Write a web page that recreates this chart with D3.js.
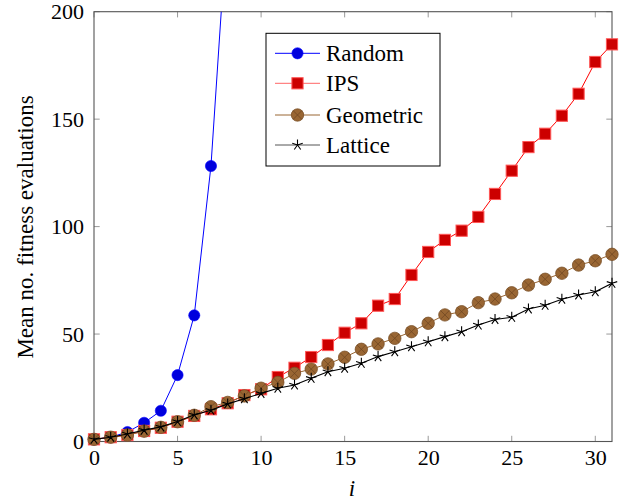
<!DOCTYPE html>
<html><head><meta charset="utf-8">
<script src="https://cdn.jsdelivr.net/npm/d3@7"></script>
<style>body{margin:0;background:#fff}svg{display:block}svg text{font-family:"Liberation Serif","Times New Roman","DejaVu Serif",serif}</style>
</head><body><div id="chart"></div>
<script>
const iRandom = [0,1,2,3,4,5,6,7,8];
const randomVals = [1,2,4.4,8.7,14.3,30.9,58.7,128.2,245];
const iAll = d3.range(0,32);
const ipsVals = [1,2,3,4.9,6.4,9.2,11.9,15,17.8,21.6,24.3,30,34.3,39.3,44.9,50.6,55,63.2,66.3,77.5,88.2,93.8,98.1,104.5,115.2,126,137,143.2,151.6,161.8,176.6,184.8];
const geoVals = [1,2,3,4.8,6.6,9.2,12.2,16.2,18.2,21.2,24.8,27.5,31.7,33.7,36.1,39.2,42.9,45.4,48,51.1,55,58.9,60.4,64.6,66.3,69.2,72.8,75.5,78.3,82.1,84.1,87.1];
const latVals = [1,2,3.5,5.3,6.8,9.3,12.4,14.5,17.5,19.9,22.4,24.8,26.3,29.4,32.5,34.1,36.4,39.5,41.8,44.1,46.4,48.8,51.1,54.2,56.8,57.8,61.7,63.4,66.2,68.2,69.7,73.6];
const xTicks = [0,5,10,15,20,25,30];
const yTicks = [0,50,100,150,200];
const seriesNames = ["Random","IPS","Geometric","Lattice"];

const W=633,H=503;
const L=94,R=612,T=11.7,B=441.5;
const svg=d3.select("#chart").append("svg").attr("width",W).attr("height",H);
const x=d3.scaleLinear().domain([0,31]).range([L,R]);
const y=d3.scaleLinear().domain([0,200]).range([B,T]);

svg.append("defs").append("clipPath").attr("id","clip").append("rect")
  .attr("x",L).attr("y",T).attr("width",R-L).attr("height",B-T);

const tickCol="#999", tl=5.7;
const tg=svg.append("g");
xTicks.forEach(t=>{
  tg.append("line").attr("x1",x(t)).attr("x2",x(t)).attr("y1",B).attr("y2",B-tl).attr("stroke",tickCol);
  tg.append("line").attr("x1",x(t)).attr("x2",x(t)).attr("y1",T).attr("y2",T+tl).attr("stroke",tickCol);
});
yTicks.forEach(t=>{
  tg.append("line").attr("y1",y(t)).attr("y2",y(t)).attr("x1",L).attr("x2",L+tl).attr("stroke",tickCol);
  tg.append("line").attr("y1",y(t)).attr("y2",y(t)).attr("x1",R).attr("x2",R-tl).attr("stroke",tickCol);
});

const xAxis=svg.append("g").attr("transform",`translate(0,${B})`)
  .call(d3.axisBottom(x).tickValues(xTicks).tickSize(0).tickPadding(8).tickFormat(d3.format("d")));
const yAxis=svg.append("g").attr("transform",`translate(${L},0)`)
  .call(d3.axisLeft(y).tickValues(yTicks).tickSize(0).tickPadding(10).tickFormat(d3.format("d")));
[xAxis,yAxis].forEach(a=>{a.attr("font-family",null);a.select(".domain").remove();a.selectAll("text").attr("font-size",22).attr("fill","#000");});

svg.append("rect").attr("x",L).attr("y",T).attr("width",R-L).attr("height",B-T)
  .attr("fill","none").attr("stroke","#555").attr("stroke-width",1.1);

const line=d3.line().x(d=>x(d[0])).y(d=>y(d[1]));
const plot=svg.append("g");

function starPath(r){let p="";for(let k=0;k<5;k++){const a=-Math.PI/2+k*2*Math.PI/5;p+=`M0,0L${(r*Math.cos(a)).toFixed(2)},${(r*Math.sin(a)).toFixed(2)}`;}return p;}
function drawMarker(g,type,cx,cy){
  const m=g.append("g").attr("transform",`translate(${cx},${cy})`);
  if(type==="circle"){m.append("circle").attr("r",5.6).attr("fill","#0000dd").attr("stroke","#0000ff").attr("stroke-width",0.6);}
  else if(type==="square"){m.append("rect").attr("x",-5.6).attr("y",-5.6).attr("width",11.2).attr("height",11.2).attr("fill","#cc0000").attr("stroke","#ff5555").attr("stroke-width",1);}
  else if(type==="otimes"){
    m.append("circle").attr("r",6.2).attr("fill","#996633").attr("stroke","#7a5028").attr("stroke-width",0.8);
    const c=6.2*Math.SQRT1_2;
    m.append("path").attr("d",`M${-c},${-c}L${c},${c}M${-c},${c}L${c},${-c}`).attr("stroke","#6b4420").attr("stroke-width",0.7);
  } else if(type==="star"){
    m.append("path").attr("d",starPath(5.5)).attr("stroke","#000").attr("stroke-width",1.1).attr("fill","none");
  }
}
const series=[
  {name:seriesNames[0],xs:iRandom,ys:randomVals,color:"#0000ff",w:1,mark:"circle"},
  {name:seriesNames[1],xs:iAll,ys:ipsVals,color:"#ff0000",w:1,mark:"square"},
  {name:seriesNames[2],xs:iAll,ys:geoVals,color:"#996633",w:1,mark:"otimes"},
  {name:seriesNames[3],xs:iAll,ys:latVals,color:"#000000",w:1.1,mark:"star"}
];
series.forEach(s=>{
  const pts=s.xs.map((xi,k)=>[xi,s.ys[k]]);
  plot.append("path").datum(pts).attr("d",line).attr("fill","none").attr("stroke",s.color)
    .attr("stroke-width",s.w).attr("clip-path","url(#clip)");
  const mg=plot.append("g");
  pts.filter(p=>p[1]<=200).forEach(p=>drawMarker(mg,s.mark,x(p[0]),y(p[1])));
});

const lg=svg.append("g");
lg.append("rect").attr("x",266).attr("y",33.3).attr("width",174).attr("height",132.7)
  .attr("fill","#fff").attr("stroke","#000").attr("stroke-width",1);
const legY=[53.3,83.3,115,145];
series.forEach((s,k)=>{
  const yy=legY[k];
  lg.append("line").attr("x1",275).attr("x2",320).attr("y1",yy).attr("y2",yy).attr("stroke",k===3?"#555":(k===1?"#ff6666":s.color)).attr("stroke-width",1);
  drawMarker(lg,s.mark,297.5,yy);
  lg.append("text").attr("x",326).attr("y",yy).attr("dy","0.33em").attr("font-size",23).text(s.name);
});

svg.append("text").attr("x",352).attr("y",488).attr("dy","0.35em").attr("text-anchor","middle")
  .attr("font-size",23).attr("font-style","italic").text("i");
svg.append("text").attr("transform",`translate(33,227) rotate(-90)`).attr("text-anchor","middle")
  .attr("font-size",23).text("Mean no. fitness evaluations");
</script></body></html>
